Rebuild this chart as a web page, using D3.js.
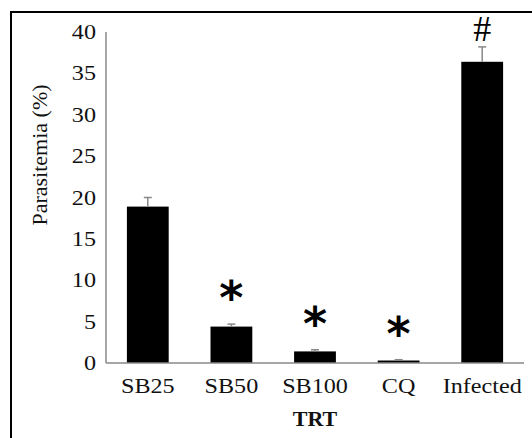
<!DOCTYPE html>
<html>
<head>
<meta charset="utf-8">
<script src="https://cdn.jsdelivr.net/npm/d3@7"></script>
<style>
  body { margin: 0; background: #fff; }
</style>
</head>
<body>
<div id="chart"></div>
<script>
// data
var groups = ["SB25", "SB50", "SB100", "CQ", "Infected"];
var means  = [18.9, 4.4, 1.4, 0.3, 36.4];
var errs   = [1.1, 0.3, 0.2, 0.1, 1.8];
var marks  = ["", "*", "*", "*", "#"];
var yTicks = [0, 5, 10, 15, 20, 25, 30, 35, 40];

var width = 532, height = 438;
var margin = {left: 106, right: 8, top: 32, bottom: 75};
var serif = "Liberation Serif";

var svg = d3.select("#chart").append("svg")
    .attr("width", width).attr("height", height)
    .attr("font-family", serif);

// frame (only top/left edges fall inside the picture)
svg.append("rect")
    .attr("x", 11).attr("y", 12)
    .attr("width", 540).attr("height", 450)
    .attr("fill", "none").attr("stroke", "#000").attr("stroke-width", 2);

var x = d3.scaleBand()
    .domain(groups)
    .range([margin.left, width - margin.right])
    .paddingInner(0.5).paddingOuter(0.25);

var y = d3.scaleLinear()
    .domain([0, 40])
    .range([height - margin.bottom, margin.top]);

var sx = 1.15; // labels in the picture are a bit stretched sideways

// y tick labels
svg.append("g").selectAll("text").data(yTicks).enter().append("text")
    .attr("transform", function(d) { return "translate(96," + (y(d) + 7) + ") scale(" + sx + ",1)"; })
    .attr("text-anchor", "end")
    .attr("fill", "#111")
    .attr("font-family", serif)
    .attr("font-size", 21)
    .text(function(d) { return d; });

// bars
svg.append("g").selectAll("rect").data(groups).enter().append("rect")
    .attr("x", function(d) { return x(d); })
    .attr("width", x.bandwidth())
    .attr("y", function(d, i) { return y(means[i]); })
    .attr("height", function(d, i) { return y(0) - y(means[i]); })
    .attr("fill", "#000");

// error bars
var eb = svg.append("g").attr("stroke", "#888").attr("stroke-width", 1.5);
eb.selectAll("line.stem").data(groups).enter().append("line")
    .attr("class", "stem")
    .attr("x1", function(d) { return x(d) + x.bandwidth() / 2; })
    .attr("x2", function(d) { return x(d) + x.bandwidth() / 2; })
    .attr("y1", function(d, i) { return y(means[i]); })
    .attr("y2", function(d, i) { return y(means[i] + errs[i]); });
eb.selectAll("line.cap").data(groups).enter().append("line")
    .attr("class", "cap")
    .attr("x1", function(d) { return x(d) + x.bandwidth() / 2 - 4; })
    .attr("x2", function(d) { return x(d) + x.bandwidth() / 2 + 4; })
    .attr("y1", function(d, i) { return y(means[i] + errs[i]); })
    .attr("y2", function(d, i) { return y(means[i] + errs[i]); });

// axes lines
svg.append("line")
    .attr("x1", margin.left).attr("x2", margin.left)
    .attr("y1", y(40)).attr("y2", y(0))
    .attr("stroke", "#888").attr("stroke-width", 1.5);
svg.append("line")
    .attr("x1", margin.left).attr("x2", width - margin.right)
    .attr("y1", y(0)).attr("y2", y(0))
    .attr("stroke", "#888").attr("stroke-width", 1.5);

// category labels
svg.append("g").selectAll("text").data(groups).enter().append("text")
    .attr("transform", function(d) { return "translate(" + (x(d) + x.bandwidth() / 2) + ",393) scale(" + sx + ",1)"; })
    .attr("text-anchor", "middle")
    .attr("fill", "#111")
    .attr("font-family", serif)
    .attr("font-size", 21)
    .text(function(d) { return d; });

// significance marks
svg.append("g").selectAll("text").data(groups).enter().append("text")
    .attr("x", function(d) { return x(d) + x.bandwidth() / 2; })
    .attr("y", function(d, i) { return marks[i] == "#" ? y(means[i] + errs[i]) - 6 : y(means[i] + errs[i]) - 10; })
    .attr("text-anchor", "middle")
    .attr("fill", "#000")
    .attr("font-size", function(d, i) { return marks[i] == "#" ? 36 : 46; })
    .attr("font-weight", function(d, i) { return marks[i] == "#" ? "normal" : "bold"; })
    .attr("font-family", function(d, i) { return marks[i] == "#" ? serif : "DejaVu Sans"; })
    .text(function(d, i) { return marks[i]; });

// axis titles
svg.append("text")
    .attr("x", (margin.left + width - margin.right) / 2)
    .attr("y", 426)
    .attr("text-anchor", "middle")
    .attr("fill", "#111")
    .attr("font-family", serif)
    .attr("font-size", 22)
    .attr("font-weight", "bold")
    .text("TRT");

svg.append("text")
    .attr("transform", "translate(47,155) rotate(-90)")
    .attr("text-anchor", "middle")
    .attr("fill", "#111")
    .attr("font-family", serif)
    .attr("font-size", 22)
    .text("Parasitemia (%)");
</script>
</body>
</html>
